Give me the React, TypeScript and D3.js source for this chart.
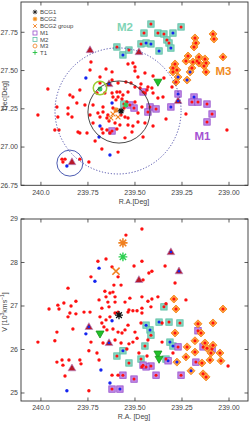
import * as d3 from "d3";

type P = [number, number];
type PB = [number, number, number];

// ---------- axes ----------
const raTicks = [240.0, 239.75, 239.5, 239.25, 239.0];
const raTickLabels = ["240.0", "239.75", "239.50", "239.25", "239.00"];
const decTicks = [27.75, 27.5, 27.25, 27.0, 26.75];
const decTickLabels = ["27.75", "27.50", "27.25", "27.00", "26.75"];
const vTicks = [29, 28, 27, 26, 25];
const vTickLabels = ["29", "28", "27", "26", "25"];

const legendLabels = ["BCG1", "BCG2", "BCG2 group", "M1", "M2", "M3", "T1"];

// ---------- top panel: R.A. / Dec ----------
const topRed: P[] = [
  [239.734, 27.556], [239.739, 27.504], [239.654, 27.51], [239.622, 27.491], [239.686, 27.458],
  [239.622, 27.438], [239.59, 27.419], [239.963, 27.379], [239.793, 27.373], [239.702, 27.353],
  [239.846, 27.34], [239.83, 27.327], [239.617, 27.327], [239.596, 27.36], [240.016, 27.209],
  [239.926, 27.111], [239.904, 27.111], [239.915, 27.262], [239.91, 27.196], [239.856, 27.255],
  [239.856, 27.216], [239.835, 27.196], [239.809, 27.288], [239.803, 27.098], [239.793, 27.092],
  [239.755, 27.092], [239.723, 27.157], [239.739, 27.209], [239.686, 27.196], [239.697, 27.223],
  [239.649, 27.19], [239.644, 27.209], [239.596, 27.118], [239.649, 27.111], [239.676, 27.118],
  [239.67, 27.092], [239.633, 27.092], [239.676, 26.987], [239.59, 26.967], [239.888, 26.921],
  [239.872, 26.921], [239.883, 26.902], [239.793, 26.921], [239.745, 26.902], [239.686, 27.419],
  [239.66, 27.353], [239.622, 27.353], [239.58, 27.36], [239.564, 27.34], [239.59, 27.327],
  [239.601, 27.308], [239.543, 27.294], [239.723, 27.275], [239.766, 27.275], [239.67, 27.262],
  [239.67, 27.229], [239.617, 27.255], [239.537, 27.19], [239.537, 27.144], [239.484, 27.164],
  [239.447, 27.157], [239.516, 27.098], [239.457, 27.066], [239.511, 27.549], [239.537, 27.543],
  [239.5, 27.523], [239.447, 27.484], [239.468, 27.412], [239.436, 27.373], [239.404, 27.353],
  [239.378, 27.321], [239.351, 27.327], [239.5, 27.497], [239.484, 27.458], [239.404, 27.464],
  [239.346, 27.451], [239.548, 27.425], [239.521, 27.419], [239.5, 27.392], [239.473, 27.386],
  [239.431, 27.392], [239.41, 27.386], [239.303, 27.392], [239.447, 27.353], [239.537, 27.36],
  [239.5, 27.294], [239.463, 27.262], [239.484, 27.223], [239.511, 27.138], [239.404, 27.138],
  [239.335, 27.183], [239.229, 27.216], [239.011, 27.111], [239.574, 27.209],
  [239.569, 27.314], [239.553, 27.196], [239.638, 27.17], [239.606, 27.157], [239.58, 27.144],
  [239.558, 27.255], [239.712, 27.04], [239.553, 27.06],
];
const topBlue: P[] = [
  [239.761, 27.451], [239.622, 27.288], [239.686, 27.138], [239.633, 26.948], [239.862, 26.876],
  [239.691, 27.066], [239.686, 27.379],
];
const topTriangles: PB[] = [
  [239.739, 27.634, 0], [239.479, 27.621, 0], [239.638, 27.412, 1], [239.271, 27.301, 1], [239.835, 26.902, 0],
];
const topGreenTri: P[] = [[239.378, 27.425]];
const topT1: P[] = [[239.686, 27.379], [239.548, 27.275]];
const topBCG1: P[] = [[239.574, 27.236]];
const topBCG2: P[] = [[239.601, 27.242]];
const topBCG2group: P[] = [[239.617, 27.216], [239.59, 27.196], [239.628, 27.19]];

const topM1: PB[] = [
  [239.457, 27.36, 0], [239.271, 27.347, 1], [239.186, 27.327, 1], [239.527, 27.275, 0], [239.505, 27.255, 0],
  [239.42, 27.262, 0], [239.431, 27.229, 0], [239.388, 27.249, 0], [239.309, 27.262, 1], [239.197, 27.294, 0],
  [239.165, 27.294, 0], [239.117, 27.281, 0], [239.09, 27.216, 0], [239.117, 27.164, 0], [239.622, 27.105, 0],
];
const topM2: PB[] = [
  [239.596, 27.654, 0], [239.564, 27.602, 1], [239.415, 27.804, 0], [239.452, 27.745, 0], [239.378, 27.745, 0],
  [239.346, 27.739, 0], [239.255, 27.785, 0], [239.33, 27.7, 0], [239.319, 27.68, 0], [239.309, 27.647, 1],
  [239.468, 27.674, 0], [239.441, 27.68, 1], [239.415, 27.674, 1], [239.372, 27.628, 1], [239.532, 27.634, 0],
  [239.298, 27.745, 1], [239.559, 27.281, 0],
];
const topM3: PB[] = [
  [239.085, 27.739, 0], [239.08, 27.706, 0], [239.181, 27.713, 0], [239.176, 27.68, 0], [239.186, 27.654, 0],
  [239.218, 27.595, 0], [239.16, 27.589, 0], [239.229, 27.562, 0], [239.192, 27.556, 0], [239.17, 27.562, 0],
  [239.128, 27.576, 0], [239.122, 27.549, 0], [239.032, 27.589, 0], [239.287, 27.543, 0], [239.298, 27.517, 0],
  [239.197, 27.517, 0], [239.133, 27.53, 0], [239.298, 27.491, 0], [239.277, 27.504, 0], [239.207, 27.491, 1],
  [239.122, 27.491, 0], [239.271, 27.458, 1], [239.282, 27.425, 0], [239.223, 27.438, 1], [239.16, 27.549, 0],
];

// circles: [R.A., Dec, radius in Dec degrees]
const solidCircle: [number, number, number] = [239.585, 27.229, 0.203];
const dottedCircle: [number, number, number] = [239.59, 27.236, 0.412];
const smallCircle: [number, number, number] = [239.846, 26.895, 0.085];
const t1Circle: [number, number, number] = [239.686, 27.386, 0.044];

// ---------- bottom panel: R.A. / V ----------
const botRed: P[] = [
  [239.697, 28.03], [239.654, 28.08], [239.622, 27.9], [239.59, 27.67], [239.574, 27.48],
  [239.612, 27.48], [239.734, 27.67], [239.856, 27.41], [239.814, 27.11], [239.878, 27.07],
  [239.91, 27.02], [239.957, 26.93], [239.904, 26.93], [239.84, 27.0], [239.66, 27.34],
  [239.617, 27.32], [239.654, 27.21], [239.691, 27.14], [239.606, 27.21], [239.463, 28.77],
  [239.548, 28.63], [239.463, 28.03], [239.505, 27.92], [239.34, 27.92], [239.41, 27.8],
  [239.426, 27.76], [239.287, 27.53], [239.457, 27.6], [239.378, 27.21], [239.431, 27.11],
  [239.41, 27.16], [239.229, 27.14], [239.335, 27.05], [239.415, 26.98], [239.463, 26.95],
  [239.633, 27.3], [239.644, 27.09], [239.606, 27.09], [239.553, 27.09], [239.527, 27.18],
  [239.463, 27.21], [239.846, 26.84], [239.771, 26.86], [239.676, 26.95], [239.638, 26.98],
  [239.606, 26.84], [239.532, 26.91], [239.511, 26.89], [239.489, 26.89], [239.463, 26.84],
  [240.016, 26.17], [239.915, 26.4], [239.926, 26.2], [239.856, 26.75], [239.814, 26.82],
  [239.83, 26.47], [239.739, 26.86], [239.734, 26.17], [239.686, 26.75], [239.676, 26.61],
  [239.654, 26.68], [239.633, 26.75], [239.665, 26.52], [239.649, 26.45], [239.617, 26.47],
  [239.59, 26.4], [239.606, 26.22], [239.745, 25.97], [239.702, 25.92], [239.691, 25.76],
  [239.915, 25.71], [239.888, 25.76], [239.883, 25.64], [239.851, 25.76], [239.793, 25.76],
  [239.787, 25.67], [239.872, 25.39], [239.745, 25.05], [239.59, 25.41], [239.537, 26.86],
  [239.468, 26.61], [239.537, 26.56], [239.553, 26.45], [239.5, 26.4], [239.511, 26.17],
  [239.532, 26.13], [239.543, 26.01], [239.431, 26.22], [239.356, 26.17], [239.298, 25.92],
  [239.436, 25.85], [239.356, 26.61], [239.005, 25.62], [239.59, 26.86], [239.569, 26.38],
  [239.489, 26.26], [239.574, 26.15], [239.67, 26.15], [239.479, 25.92], [239.463, 25.6],
  [239.622, 25.41],
];
const botBlue: P[] = [
  [239.691, 27.87], [239.713, 27.57], [239.622, 26.66], [239.761, 26.36], [239.681, 25.53],
  [239.633, 25.23], [239.862, 25.05],
];
const botTriangles: PB[] = [
  [239.309, 28.24, 1], [239.266, 27.8, 1], [239.479, 27.6, 0], [239.745, 26.52, 1], [239.638, 26.15, 1],
  [239.835, 25.57, 0],
];
const botGreenTri: P[] = [[239.686, 26.36], [239.378, 25.9], [239.372, 25.78]];
const botT1: P[] = [[239.564, 28.13]];
const botBCG1: P[] = [[239.585, 26.79]];
const botBCG2: P[] = [[239.564, 28.45]];
const botBCG2group: P[] = [[239.601, 27.8]];

const botM1: PB[] = [
  [239.165, 26.43, 0], [239.138, 26.06, 0], [239.09, 26.01, 0], [239.271, 26.06, 0], [239.176, 25.71, 0],
  [239.324, 25.74, 1], [239.415, 25.62, 0], [239.441, 25.6, 0], [239.457, 25.64, 0], [239.255, 25.41, 0],
  [239.505, 25.32, 0], [239.388, 25.41, 0], [239.622, 25.09, 0], [239.58, 25.09, 1], [239.564, 25.41, 0],
];
const botM2: PB[] = [
  [239.441, 26.56, 1], [239.372, 26.63, 1], [239.319, 26.63, 0], [239.261, 26.61, 0], [239.42, 26.45, 1],
  [239.415, 26.33, 0], [239.447, 26.08, 0], [239.314, 26.17, 1], [239.298, 26.08, 1], [239.335, 25.78, 0],
  [239.532, 25.69, 0], [239.468, 25.78, 0], [239.596, 25.85, 0], [239.564, 25.97, 1], [239.346, 26.98, 0],
];
const botM3: PB[] = [
  [239.293, 27.16, 0], [239.282, 26.93, 0], [239.032, 26.93, 0], [239.165, 26.59, 0], [239.085, 26.61, 0],
  [239.287, 26.38, 0], [239.149, 26.38, 0], [239.181, 26.2, 0], [239.128, 26.15, 0], [239.085, 26.1, 0],
  [239.117, 26.03, 0], [239.223, 26.06, 0], [239.181, 25.94, 0], [239.096, 25.92, 0], [239.048, 25.92, 0],
  [239.229, 25.83, 0], [239.101, 25.76, 0], [239.043, 25.74, 0], [239.144, 25.69, 0], [239.277, 25.71, 1],
  [239.202, 25.51, 1], [239.138, 25.44, 0], [239.122, 25.37, 0],
];

// ---------- layout ----------
const W = 250;
const H = 421;
const FONT = "'Liberation Sans', Arial, sans-serif";
const RED = "#ff1010";
const BLUE = "#1424f0";

const x = d3.scaleLinear().domain([240.106, 238.899]).range([21, 248]);
const yTop = d3.scaleLinear().domain([26.75, 27.948]).range([185.3, 2]);
const yBot = d3.scaleLinear().domain([24.816, 29]).range([401, 219]);

const asterisk = (r: number) => {
  const d = r * 0.72;
  return `M${-r},0H${r}M0,${-r}V${r}M${-d},${-d}L${d},${d}M${-d},${d}L${d},${-d}`;
};
const xcross = (r: number) => `M${-r},${-r}L${r},${r}M${-r},${r}L${r},${-r}`;
const triUp = "M0,-4.2L3.9,2.6L-3.9,2.6Z";
const triDown = "M0,4.2L4,-2.8L-4,-2.8Z";
const diamond = "M0,-4L4,0L0,4L-4,0Z";

type Sc = d3.ScaleLinear<number, number>;

function Panel({ y, red, blue, tris, green, t1, bcg1, bcg2, bcg2g, m1, m2, m3, yTicks, yLabels, yTitle, xTitle, xTitleY, tickLabelY }: {
  y: Sc; red: P[]; blue: P[]; tris: PB[]; green: P[]; t1: P[]; bcg1: P[]; bcg2: P[]; bcg2g: P[];
  m1: PB[]; m2: PB[]; m3: PB[]; yTicks: number[]; yLabels: string[]; yTitle: React.ReactNode;
  xTitle: string; xTitleY: number; tickLabelY: number;
}) {
  const [y0, y1] = y.range();
  const x0 = x.range()[0];
  const x1 = x.range()[1];
  const members = [...m1, ...m2, ...m3];
  const big = y === yBot;
  return (
    <g>
      {tris.map(([a, b], i) => (
        <path key={"t" + i} d={triUp} transform={`translate(${x(a)},${y(b)})`} fill="#b8192a" stroke="#b58ac4" strokeWidth={0.7} />
      ))}
      {m2.map(([a, b], i) => (
        <rect key={"m2" + i} x={x(a) - 3.2} y={y(b) - 3.2} width={6.4} height={6.4} fill="#86d6c0" stroke="#5cbfa5" strokeWidth={0.8} />
      ))}
      {m1.map(([a, b], i) => (
        <rect key={"m1" + i} x={x(a) - 3.2} y={y(b) - 3.2} width={6.4} height={6.4} fill="#c08ae6" stroke="#9650cc" strokeWidth={0.8} />
      ))}
      {m3.map(([a, b], i) => (
        <path key={"m3" + i} d={diamond} transform={`translate(${x(a)},${y(b)})`} fill="#ffa040" stroke="#f28010" strokeWidth={0.8} />
      ))}
      {red.map(([a, b], i) => (
        <circle key={"r" + i} cx={x(a)} cy={y(b)} r={1.7} fill={RED} />
      ))}
      {blue.map(([a, b], i) => (
        <circle key={"b" + i} cx={x(a)} cy={y(b)} r={1.7} fill={BLUE} />
      ))}
      {members.map(([a, b, c], i) => (
        <circle key={"md" + i} cx={x(a)} cy={y(b)} r={1.5} fill={c ? BLUE : RED} />
      ))}
      {tris.filter((t) => t[2]).map(([a, b], i) => (
        <circle key={"td" + i} cx={x(a)} cy={y(b)} r={1.3} fill={BLUE} />
      ))}
      {green.map(([a, b], i) => (
        <path key={"g" + i} d={triDown} transform={`translate(${x(a)},${y(b)})`} fill="#22c02a" stroke="#16941c" strokeWidth={0.8} />
      ))}
      {bcg2g.map(([a, b], i) => (
        <path key={"x" + i} d={xcross(big ? 3.6 : 2.4)} transform={`translate(${x(a)},${y(b)})`} stroke="#f08020" strokeWidth={big ? 1.6 : 1.1} fill="none" />
      ))}
      {bcg2.map(([a, b], i) => (
        <path key={"o" + i} d={asterisk(big ? 4.6 : 2.8)} transform={`translate(${x(a)},${y(b)})`} stroke="#f08020" strokeWidth={big ? 1.6 : 1.2} fill="none" />
      ))}
      {t1.map(([a, b], i) => (
        <path key={"t1" + i} d={asterisk(big ? 4.4 : 2.6)} transform={`translate(${x(a)},${y(b)})`} stroke="#2cd050" strokeWidth={big ? 1.4 : 1.1} fill="none" />
      ))}
      {bcg1.map(([a, b], i) => (
        <path key={"k" + i} d={asterisk(big ? 4 : 3.2)} transform={`translate(${x(a)},${y(b)})`} stroke="#111" strokeWidth={1.3} fill="none" />
      ))}

      {/* frame and ticks */}
      <rect x={x0} y={y1} width={x1 - x0} height={y0 - y1} fill="none" stroke="#333" strokeWidth={0.9} />
      {raTicks.map((t, i) => (
        <g key={"xt" + i}>
          <line x1={x(t)} x2={x(t)} y1={y0} y2={y0 - 3.5} stroke="#333" strokeWidth={0.8} />
          <line x1={x(t)} x2={x(t)} y1={y1} y2={y1 + 3.5} stroke="#333" strokeWidth={0.8} />
          <text x={x(t)} y={tickLabelY} textAnchor="middle" fontSize={7} fill="#444" fontFamily={FONT}>{raTickLabels[i]}</text>
        </g>
      ))}
      {yTicks.map((t, i) => (
        <g key={"yt" + i}>
          <line x1={x0} x2={x0 + 3.5} y1={y(t)} y2={y(t)} stroke="#333" strokeWidth={0.8} />
          <line x1={x1} x2={x1 - 3.5} y1={y(t)} y2={y(t)} stroke="#333" strokeWidth={0.8} />
          <text x={18} y={y(t)} dy="0.35em" textAnchor="end" fontSize={7} fill="#444" fontFamily={FONT}>{yLabels[i]}</text>
        </g>
      ))}
      <text x={134} y={xTitleY} textAnchor="middle" fontSize={7} fill="#444" fontFamily={FONT}>{xTitle}</text>
      <text transform={`translate(6.5,${(y0 + y1) / 2 + 2}) rotate(-90)`} textAnchor="middle" fontSize={7} fill="#444" fontFamily={FONT}>{yTitle}</text>
    </g>
  );
}

function Legend() {
  const lx = 35;
  const ys = [12, 19, 26, 33, 39.5, 46, 52.5];
  const m = (i: number) => {
    const t = `translate(${lx},${ys[i]})`;
    switch (i) {
      case 0: return <path d={asterisk(2.3)} transform={t} stroke="#222" strokeWidth={0.9} fill="none" />;
      case 1: return <g transform={t}><circle r={1.8} fill="#ffa030" /><path d={asterisk(2.3)} stroke="#f29020" strokeWidth={0.8} fill="none" /></g>;
      case 2: return <path d={xcross(1.8)} transform={t} stroke="#f08020" strokeWidth={0.9} fill="none" />;
      case 3: return <rect x={lx - 2} y={ys[i] - 2} width={4} height={4} fill="none" stroke="#9650cc" strokeWidth={0.8} />;
      case 4: return <rect x={lx - 2} y={ys[i] - 2} width={4} height={4} fill="none" stroke="#5cbfa5" strokeWidth={0.8} />;
      case 5: return <circle cx={lx} cy={ys[i]} r={2} fill="none" stroke="#f08020" strokeWidth={0.8} />;
      default: return <path d="M-2.3,0H2.3M0,-2.3V2.3" transform={t} stroke="#22c040" strokeWidth={0.9} fill="none" />;
    }
  };
  return (
    <g>
      {legendLabels.map((l, i) => (
        <g key={l}>
          {m(i)}
          <text x={lx + 5} y={ys[i]} dy="0.35em" fontSize={6} fill="#444" fontFamily={FONT}>{l}</text>
        </g>
      ))}
    </g>
  );
}

export default function App() {
  const circ = (c: [number, number, number]) => ({
    cx: x(c[0]),
    cy: yTop(c[1]),
    r: Math.abs(yTop(c[1] + c[2]) - yTop(c[1])),
  });
  return (
    <svg width={W} height={H} style={{ position: "absolute", left: 0, top: 0, background: "#fff" }}>
      <Panel
        y={yTop} red={topRed} blue={topBlue} tris={topTriangles} green={topGreenTri} t1={topT1}
        bcg1={topBCG1} bcg2={topBCG2} bcg2g={topBCG2group} m1={topM1} m2={topM2} m3={topM3}
        yTicks={decTicks} yLabels={decTickLabels} yTitle="Dec[Deg]" xTitle="R.A.[Deg]" xTitleY={204} tickLabelY={194.5}
      />
      <circle {...circ(dottedCircle)} fill="none" stroke="#3c3ca0" strokeWidth={0.9} strokeDasharray="1.2,1.8" />
      <circle {...circ(solidCircle)} fill="none" stroke="#333" strokeWidth={0.9} />
      <circle {...circ(smallCircle)} fill="none" stroke="#3848a8" strokeWidth={0.9} />
      <circle {...circ(t1Circle)} fill="none" stroke="#9acd32" strokeWidth={1.5} />
      <text x={117} y={30.5} fontSize={11.5} fontWeight="bold" fill="#7fd4b6" fontFamily={FONT}>M2</text>
      <text x={215.5} y={74.5} fontSize={11.5} fontWeight="bold" fill="#f08a24" fontFamily={FONT}>M3</text>
      <text x={194.5} y={139.5} fontSize={11.5} fontWeight="bold" fill="#a452d2" fontFamily={FONT}>M1</text>
      <Legend />
      <Panel
        y={yBot} red={botRed} blue={botBlue} tris={botTriangles} green={botGreenTri} t1={botT1}
        bcg1={botBCG1} bcg2={botBCG2} bcg2g={botBCG2group} m1={botM1} m2={botM2} m3={botM3}
        yTicks={vTicks} yLabels={vTickLabels}
        yTitle={<>V [10<tspan dy={-2.5} fontSize={5}>3</tspan><tspan dy={2.5}>kms</tspan><tspan dy={-2.5} fontSize={5}>−1</tspan><tspan dy={2.5}>]</tspan></>}
        xTitle="R.A. [Deg]" xTitleY={418.5} tickLabelY={409.5}
      />
    </svg>
  );
}
